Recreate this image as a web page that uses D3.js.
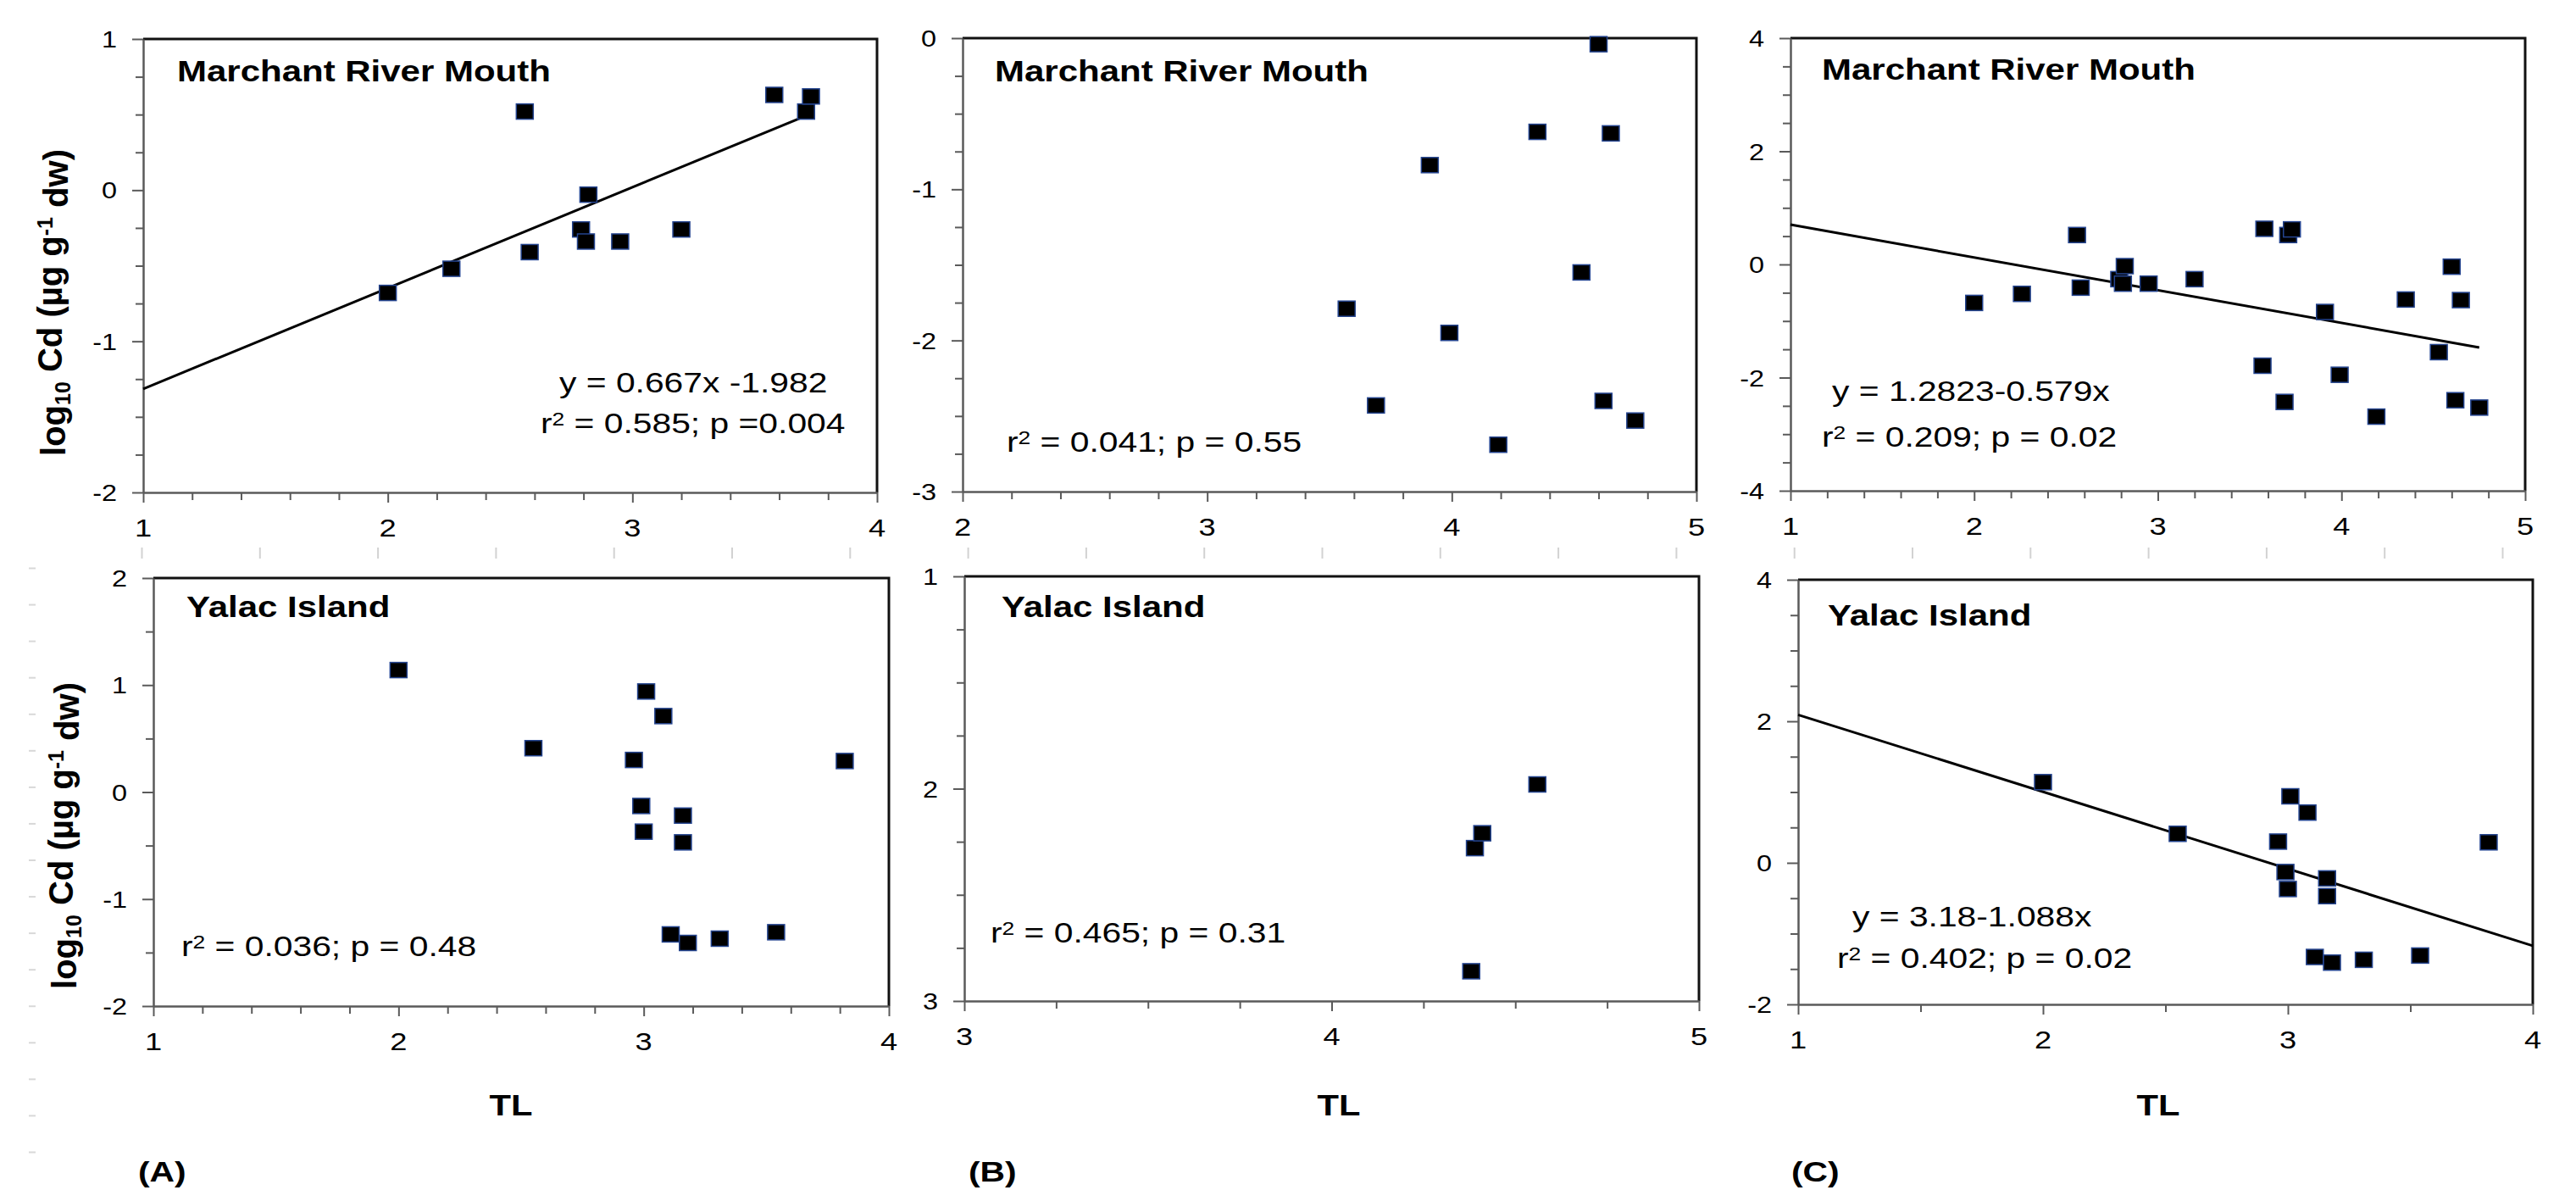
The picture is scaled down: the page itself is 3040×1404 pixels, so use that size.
<!DOCTYPE html>
<html>
<head>
<meta charset="utf-8">
<script src="https://cdn.jsdelivr.net/npm/d3@7/dist/d3.min.js"></script>
<style>
  body { margin: 0; background: #fff; }
  text { font-family: "Liberation Sans", Arial, sans-serif; fill: #000; }
</style>
</head>
<body>
<div id="chart"></div>
<script>
// values (TL = trophic level, Cd = log10 Cd)
// (A) Marchant River Mouth
var aTopTL = [2.00, 2.26, 2.56, 2.58, 2.79, 2.81, 2.82, 2.95, 3.20, 3.58, 3.71, 3.73];
var aTopCd = [-0.68, -0.52, 0.52, -0.41, -0.26, -0.34, -0.03, -0.34, -0.26, 0.63, 0.52, 0.62];
// (B) Marchant River Mouth
var bTopTL = [3.57, 3.69, 3.91, 3.99, 4.19, 4.35, 4.53, 4.60, 4.62, 4.65, 4.75];
var bTopCd = [-1.79, -2.43, -0.84, -1.95, -2.69, -0.62, -1.55, -0.04, -2.40, -0.63, -2.53];
// (A) Yalac Island
var aBotTL = [2.00, 2.55, 2.96, 3.01, 3.08, 2.99, 3.00, 3.16, 3.16, 3.11, 3.18, 3.31, 3.54, 3.82];
var aBotCd = [1.14, 0.41, 0.30, 0.94, 0.71, -0.13, -0.37, -0.22, -0.47, -1.33, -1.41, -1.37, -1.31, 0.29];
// (B) Yalac Island (axis is labelled 1 at top to 3 at bottom)
var bBotTL = [4.38, 4.39, 4.41, 4.56];
var bBotCd = [2.86, 2.28, 2.21, 1.98];
// (C) pools A and B
var cTopTL = aTopTL.concat(bTopTL);
var cTopCd = aTopCd.concat(bTopCd);
var cBotTL = aBotTL;
var cBotCd = aBotCd;

// regression lines: [intercept, slope, xFrom, xTo]
var aTopFit = [-1.982, 0.667, 1, 3.72];
var cTopFit = [1.2823, -0.579, 1, 4.75];
var cBotFit = [3.18, -1.088, 1, 4];

// texts
var siteTop = "Marchant River Mouth";
var siteBot = "Yalac Island";
var panelTags = ["(A)", "(B)", "(C)"];

var svgWidth = 3040;
var svgHeight = 1404;

var svg = d3.select("#chart")
  .append("svg")
  .attr("width", svgWidth)
  .attr("height", svgHeight);

// r² text helper: parts are [text, "sup"|null]
function r2(r, p) { return [["r", null], ["2", "sup"], [" = " + r + "; p " + p, null]]; }

// layout for each panel: box = [left, right, top, bottom] in px
var panels = [
  { box: [169, 1035, 46, 581], xDom: [1, 4], yDom: [1, -2], xMinor: 0.2, yMinor: 0.25, yLab: 1,
    title: siteTop, tOff: [40, 50], tl: aTopTL, cd: aTopCd, fit: aTopFit,
    notes: [ { parts: [["y = 0.667x -1.982", null]], off: [491, 417] },
             { parts: r2("0.585", "=0.004"), off: [469, 465] } ] },
  { box: [1136, 2002, 45, 580], xDom: [2, 5], yDom: [0, -3], xMinor: 0.2, yMinor: 0.25, yLab: 1,
    title: siteTop, tOff: [38, 51], tl: bTopTL, cd: bTopCd, fit: null,
    notes: [ { parts: r2("0.041", "= 0.55"), off: [52, 488] } ] },
  { box: [2113, 2980, 45, 579], xDom: [1, 5], yDom: [4, -4], xMinor: 0.2, yMinor: 0.5, yLab: 2,
    title: siteTop, tOff: [37, 49], tl: cTopTL, cd: cTopCd, fit: cTopFit,
    notes: [ { parts: [["y = 1.2823-0.579x", null]], off: [49, 428] },
             { parts: r2("0.209", "= 0.02"), off: [37, 482] } ] },
  { box: [181, 1049, 682, 1187], xDom: [1, 4], yDom: [2, -2], xMinor: 0.2, yMinor: 0.5, yLab: 1,
    title: siteBot, tOff: [39, 46], tl: aBotTL, cd: aBotCd, fit: null,
    notes: [ { parts: r2("0.036", "= 0.48"), off: [33, 446] } ] },
  { box: [1138, 2005, 680, 1181], xDom: [3, 5], yDom: [1, 3], xMinor: 0.25, yMinor: 0.25, yLab: 1,
    title: siteBot, tOff: [44, 48], tl: bBotTL, cd: bBotCd, fit: null,
    notes: [ { parts: r2("0.465", "= 0.31"), off: [31, 432] } ] },
  { box: [2122, 2989, 684, 1185], xDom: [1, 4], yDom: [4, -2], xMinor: 0.5, yMinor: 0.5, yLab: 2,
    title: siteBot, tOff: [35, 54], tl: cBotTL, cd: cBotCd, fit: cBotFit,
    notes: [ { parts: [["y = 3.18-1.088x", null]], off: [64, 409] },
             { parts: r2("0.402", "= 0.02"), off: [46, 458] } ] }
];

// faint leftover tick marks of the original layout
var ghostX = d3.scaleLinear().domain([0, 20]).range([167, 2953]);
svg.append("g")
  .attr("transform", "translate(0,646)")
  .call(d3.axisBottom(ghostX).ticks(20).tickSize(13).tickFormat(""))
  .call(function(s) {
    s.select(".domain").remove();
    s.selectAll(".tick line").attr("stroke", "#d2d2d2").attr("stroke-width", 2);
  });
var ghostY = d3.scaleLinear().domain([0, 16]).range([670, 1359]);
svg.append("g")
  .attr("transform", "translate(42,0)")
  .call(d3.axisLeft(ghostY).ticks(16).tickSize(8).tickFormat(""))
  .call(function(s) {
    s.select(".domain").remove();
    s.selectAll(".tick line").attr("stroke", "#d8d8d8").attr("stroke-width", 2);
  });

function stepRange(dom, step) {
  var lo = Math.min(dom[0], dom[1]), hi = Math.max(dom[0], dom[1]);
  var n = Math.round((hi - lo) / step);
  return d3.range(n + 1).map(function(i) { return +(lo + i * step).toFixed(4); });
}

function styleAxis(s) {
  s.select(".domain").attr("stroke", "#5a5a5a").attr("stroke-width", 2.5);
  s.selectAll(".tick line").attr("stroke", "#5a5a5a").attr("stroke-width", 2);
}

function drawPanel(p) {
  var x = d3.scaleLinear().domain(p.xDom).range([p.box[0], p.box[1]]);
  var y = d3.scaleLinear().domain(p.yDom).range([p.box[2], p.box[3]]);
  var xLabels = stepRange(p.xDom, 1);
  var yLabels = stepRange(p.yDom, p.yLab);
  var g = svg.append("g");

  // top and right frame
  g.append("path")
    .attr("d", "M" + x.range()[0] + "," + y.range()[0] + "H" + x.range()[1] + "V" + y.range()[1])
    .attr("fill", "none")
    .attr("stroke", "#111")
    .attr("stroke-width", 3);

  // axes, labelled ticks a bit longer than the minor ones
  g.append("g")
    .attr("transform", "translate(0," + y.range()[1] + ")")
    .call(d3.axisBottom(x).tickValues(stepRange(p.xDom, p.xMinor)).tickSize(9).tickSizeOuter(0).tickFormat(""))
    .call(styleAxis)
    .call(function(s) {
      s.selectAll(".tick line").attr("y2", function(d) { return xLabels.indexOf(d) >= 0 ? 12 : 9; });
    });
  g.append("g")
    .attr("transform", "translate(" + x.range()[0] + ",0)")
    .call(d3.axisLeft(y).tickValues(stepRange(p.yDom, p.yMinor)).tickSize(9).tickSizeOuter(0).tickFormat(""))
    .call(styleAxis)
    .call(function(s) {
      s.selectAll(".tick line").attr("x2", function(d) { return yLabels.indexOf(d) >= 0 ? -13 : -9; });
    });

  // tick labels
  g.selectAll("text.xl")
    .data(xLabels)
    .join("text")
    .attr("class", "xl")
    .attr("transform", function(d) { return "translate(" + x(d) + "," + (y.range()[1] + 52) + ") scale(1.25,1)"; })
    .attr("text-anchor", "middle")
    .style("font-size", "29px")
    .text(function(d) { return String(d); });
  g.selectAll("text.yl")
    .data(yLabels)
    .join("text")
    .attr("class", "yl")
    .attr("transform", function(d) { return "translate(" + (x.range()[0] - 31) + "," + (y(d) + 10) + ") scale(1.2,1)"; })
    .attr("text-anchor", "end")
    .style("font-size", "27px")
    .text(function(d) { return String(d); });

  // regression line
  if (p.fit) {
    var f = p.fit;
    g.append("line")
      .attr("x1", x(f[2])).attr("y1", y(f[0] + f[1] * f[2]))
      .attr("x2", x(f[3])).attr("y2", y(f[0] + f[1] * f[3]))
      .attr("stroke", "#000")
      .attr("stroke-width", 3);
  }

  // points
  var pts = p.tl.map(function(v, i) { return { tl: v, cd: p.cd[i] }; });
  g.selectAll("rect.pt")
    .data(pts)
    .join("rect")
    .attr("class", "pt")
    .attr("x", function(d) { return x(d.tl) - 10; })
    .attr("y", function(d) { return y(d.cd) - 9; })
    .attr("width", 20)
    .attr("height", 18)
    .attr("fill", "#000")
    .attr("stroke", "#24448f")
    .attr("stroke-width", 1.5);

  // site title
  g.append("text")
    .attr("transform", "translate(" + (p.box[0] + p.tOff[0]) + "," + (p.box[2] + p.tOff[1]) + ") scale(1.2,1)")
    .style("font-size", "35px")
    .style("font-weight", "bold")
    .text(p.title);

  // equations / stats
  p.notes.forEach(function(n) {
    var t = g.append("text")
      .attr("transform", "translate(" + (p.box[0] + n.off[0]) + "," + (p.box[2] + n.off[1]) + ") scale(1.2,1)")
      .style("font-size", "34px");
    n.parts.forEach(function(part, i) {
      var ts = t.append("tspan").text(part[0]);
      if (part[1] === "sup") ts.attr("dy", "-0.42em").style("font-size", "22px");
      else if (i > 0 && n.parts[i - 1][1] === "sup") ts.attr("dy", "0.28em");
    });
  });
}

panels.forEach(drawPanel);

// y axis titles (baseline x, centre y)
[[77, 357], [90, 986]].forEach(function(c) {
  var t = svg.append("text")
    .attr("transform", "translate(" + c[0] + "," + c[1] + ") rotate(-90)")
    .attr("text-anchor", "middle")
    .style("font-size", "40px")
    .style("font-weight", "bold");
  t.append("tspan").text("log");
  t.append("tspan").text("10").style("font-size", "25px").attr("dy", "0.25em");
  t.append("tspan").text(" Cd (\u00b5g g").attr("dy", "-0.25em");
  t.append("tspan").text("-1").style("font-size", "25px").attr("dy", "-0.45em");
  t.append("tspan").text(" dw)").attr("dy", "0.45em");
});

// x axis titles
[603, 1580, 2547].forEach(function(cx) {
  svg.append("text")
    .attr("transform", "translate(" + cx + ",1316) scale(1.19,1)")
    .attr("text-anchor", "middle")
    .style("font-size", "35px")
    .style("font-weight", "bold")
    .text("TL");
});

// panel tags
[163, 1143, 2114].forEach(function(lx, i) {
  svg.append("text")
    .attr("transform", "translate(" + lx + ",1394) scale(1.2,1)")
    .style("font-size", "34px")
    .style("font-weight", "bold")
    .text(panelTags[i]);
});
</script>
</body>
</html>
